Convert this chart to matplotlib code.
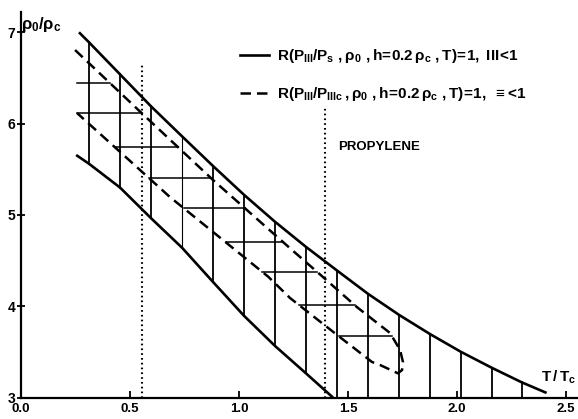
import numpy as np
import matplotlib
matplotlib.use("Agg")
import matplotlib.pyplot as plt
from matplotlib.lines import Line2D

plt.rcParams['font.family'] = ['Liberation Sans Narrow', 'Liberation Sans', 'DejaVu Sans']
plt.rcParams['font.weight'] = 'bold'
plt.rcParams['mathtext.fontset'] = 'custom'
plt.rcParams['mathtext.rm'] = 'Liberation Sans:bold'
plt.rcParams['mathtext.it'] = 'Liberation Sans:bold'
plt.rcParams['mathtext.bf'] = 'Liberation Sans:bold'
plt.rcParams['mathtext.sf'] = 'Liberation Sans:bold'

# upper boundary (solid)
upper_T = [0.266, 0.312, 0.454, 0.596, 0.739, 0.881, 1.023, 1.165, 1.307,
           1.450, 1.592, 1.734, 1.876, 2.018, 2.160, 2.298, 2.411]
upper_rho = [7.00, 6.89, 6.54, 6.19, 5.86, 5.535, 5.22, 4.925, 4.65,
             4.39, 4.135, 3.905, 3.695, 3.50, 3.325, 3.165, 3.05]

# lower boundary (solid)
lower_T = [0.253, 0.312, 0.454, 0.596, 0.739, 0.881, 1.023, 1.165, 1.307, 1.431]
lower_rho = [5.656, 5.56, 5.30, 4.965, 4.64, 4.265, 3.895, 3.565, 3.265, 3.0]

# dashed curve: upper branch down to the nose ...
dash_up_T = [0.248, 0.553, 0.881, 1.234, 1.385, 1.541, 1.693, 1.739, 1.752, 1.748]
dash_up_rho = [6.806, 6.116, 5.382, 4.635, 4.32, 3.99, 3.706, 3.52, 3.389, 3.301]
# ... and lower branch back from the nose
dash_lo_T = [0.257, 0.683, 1.134, 1.234, 1.450, 1.610, 1.647, 1.729]
dash_lo_rho = [6.116, 5.196, 4.323, 4.09, 3.685, 3.389, 3.356, 3.265]

# hatching
vert_T = [0.312, 0.454, 0.596, 0.739, 0.881, 1.023, 1.165, 1.307,
          1.450, 1.592, 1.734, 1.876, 2.018, 2.160, 2.298]
horiz_rho = [6.445, 6.116, 5.743, 5.404, 5.075, 4.70, 4.374, 4.013, 3.673]

# dotted markers
dotted_T = [0.553, 1.394]
dotted_top = [6.64, 6.18]

xticks = [0.0, 0.5, 1.0, 1.5, 2.0, 2.5]
xtick_labels = ['0.0', '0.5', '1.0', '1.5', '2.0', '2.5']
yticks = [3, 4, 5, 6, 7]

W, H = 578, 419
fig = plt.figure(figsize=(W / 100, H / 100), dpi=100)
ax = fig.add_axes([21 / W, 21.5 / H, 557 / W, 385.5 / H])
ax.set_xlim(0, 557 / 218)
ax.set_ylim(3, 3 + 385.5 / 91.3)

for s in ['top', 'right']:
    ax.spines[s].set_visible(False)
for s in ['left', 'bottom']:
    ax.spines[s].set_linewidth(1.6)

dash = (0, (4.2, 2.4))
ax.plot(upper_T, upper_rho, color='k', lw=1.9, solid_capstyle='butt')
ax.plot(lower_T, lower_rho, color='k', lw=1.9, solid_capstyle='butt')
loop_T = dash_up_T + dash_lo_T[::-1]
loop_rho = dash_up_rho + dash_lo_rho[::-1]
ax.plot(loop_T, loop_rho, color='k', lw=1.8, linestyle=dash)

# vertical hatch lines between the solid curves
for t in vert_T:
    top = np.interp(t, upper_T, upper_rho)
    bot = max(np.interp(t, lower_T, lower_rho, right=3.0), 3.0)
    ax.plot([t, t], [bot, top], color='k', lw=1.3 if t != 0.739 else 0.8)

# horizontal hatch lines between the dashed curves
for r in horiz_rho:
    left = np.interp(r, dash_lo_rho[::-1], dash_lo_T[::-1])
    right = np.interp(r, dash_up_rho[::-1], dash_up_T[::-1])
    ax.plot([left, right], [r, r], color='k', lw=1.1)

for t, top in zip(dotted_T, dotted_top):
    ax.plot([t, t], [3, top], color='k', lw=1.5, linestyle=(0, (0.8, 1.5)))

ax.set_xticks(xticks)
ax.set_xticklabels(xtick_labels)
ax.set_yticks(yticks)
ax.tick_params(axis='x', direction='in', length=5, width=1.3, pad=4, labelsize=9.5)
ax.tick_params(axis='y', direction='inout', length=6, width=1.3, pad=1, labelsize=10)
for lbl in ax.get_yticklabels():
    lbl.set_verticalalignment('center_baseline')

fig.text(558 / W, 1 - 377 / H, r'$T\,/\,T_c$', ha='center', va='center', fontsize=11)
fig.text(41 / W, 1 - 24 / H, r'$\rho_0/\rho_c$', ha='center', va='center', fontsize=12)
fig.text(379 / W, 1 - 147 / H, 'PROPYLENE', ha='center', va='center', fontsize=9.5)

handles = [Line2D([], [], color='k', lw=1.9),
           Line2D([], [], color='k', lw=1.8, linestyle=dash)]
labels = [r'$R(P_{III}/P_s\ ,\rho_0\ ,h\!=\!0.2\,\rho_c\ ,T)\!=\!1,\ III\!<\!1$',
          r'$R(P_{III}/P_{IIIc}\,,\rho_0\ ,h\!=\!0.2\,\rho_c\ ,T)\!=\!1,\ \equiv\!<\!1$']
ax.legend(handles, labels, loc='upper left', bbox_to_anchor=(240 / W, 1 - 47 / H),
          bbox_transform=fig.transFigure, frameon=False, fontsize=11,
          handlelength=1.9, handletextpad=0.5, labelspacing=1.3,
          borderpad=0, borderaxespad=0)

fig.savefig('out.png', dpi=100)
